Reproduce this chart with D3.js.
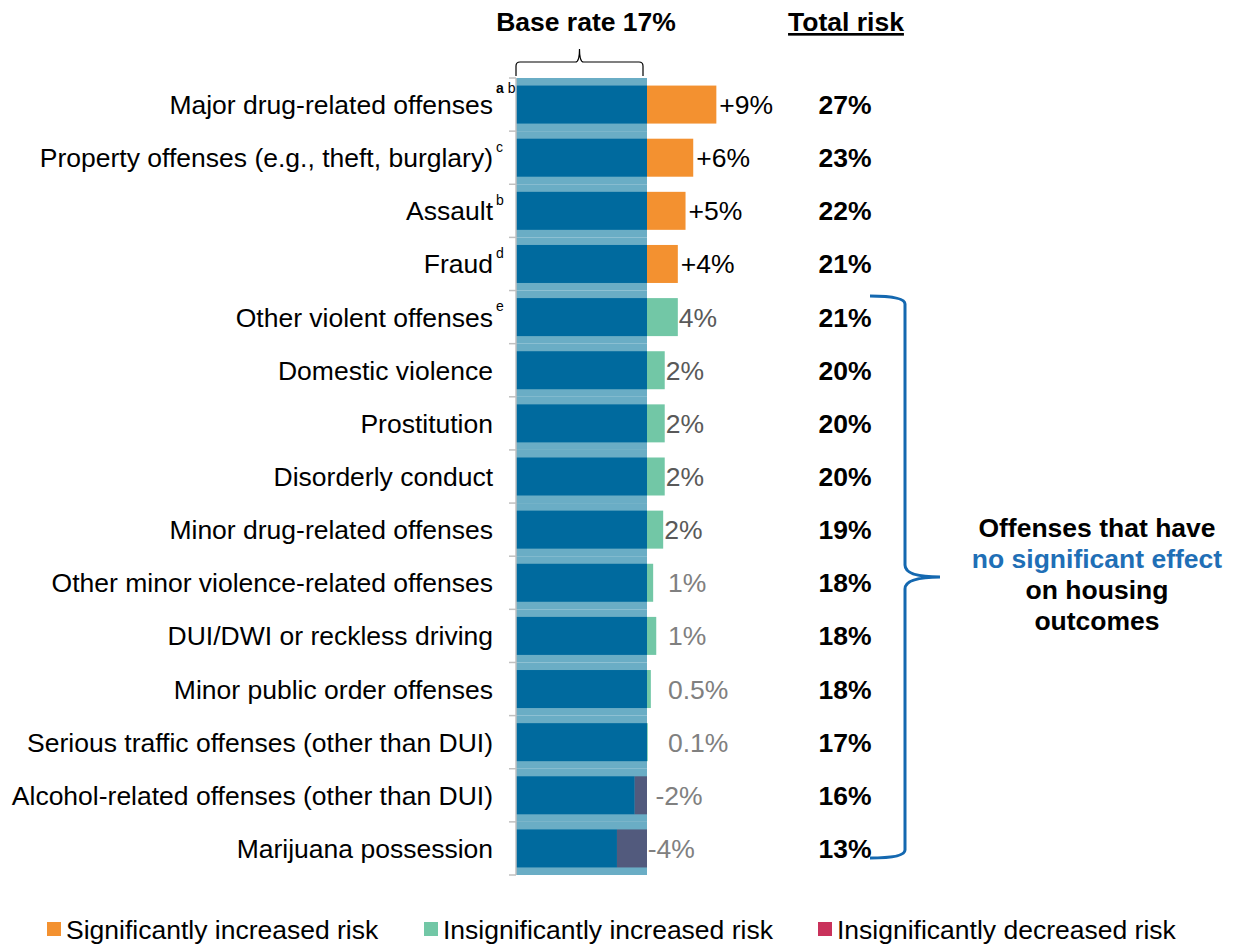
<!DOCTYPE html>
<html>
<head>
<meta charset="utf-8">
<script src="https://cdn.jsdelivr.net/npm/d3@7"></script>
<style>
  body { margin: 0; background: #fff; }
  text { font-family: "Liberation Sans", Arial, sans-serif; }
</style>
</head>
<body>
<div id="chart"></div>
<script>
// Chart data
const categories = [
  "Major drug-related offenses",
  "Property offenses (e.g., theft, burglary)",
  "Assault",
  "Fraud",
  "Other violent offenses",
  "Domestic violence",
  "Prostitution",
  "Disorderly conduct",
  "Minor drug-related offenses",
  "Other minor violence-related offenses",
  "DUI/DWI or reckless driving",
  "Minor public order offenses",
  "Serious traffic offenses (other than DUI)",
  "Alcohol-related offenses (other than DUI)",
  "Marijuana possession"
];
const footnotes = ["a b", "c", "b", "d", "e", "", "", "", "", "", "", "", "", "", ""];
const baseRate = 17;
const effects = [9, 6, 5, 4, 4, 2.3, 2.3, 2.3, 2.1, 0.8, 1.2, 0.5, 0.1, -1.6, -3.9];
const effectLabels = ["+9%", "+6%", "+5%", "+4%", "4%", "2%", "2%", "2%", "2%", "1%", "1%", "0.5%", "0.1%", "-2%", "-4%"];
const significant = [true, true, true, true, false, false, false, false, false, false, false, false, false, false, false];
const totalRisk = ["27%", "23%", "22%", "21%", "21%", "20%", "20%", "20%", "19%", "18%", "18%", "18%", "17%", "16%", "13%"];
const legendItems = ["Significantly increased risk", "Insignificantly increased risk", "Insignificantly decreased risk"];
const legendColors = ["#f39130", "#72c7a6", "#c9325b"];

const width = 1242;
const height = 945;
const fs = 26.5;

const svg = d3.select("#chart").append("svg")
    .attr("width", width)
    .attr("height", height);

// Scales
const x = d3.scaleLinear().domain([0, baseRate]).range([516, 647]);
const y = d3.scaleBand().domain(categories).range([78, 875]).paddingInner(0).paddingOuter(0);
const barH = 38;
const mid = c => y(c) + y.bandwidth() / 2;

const rows = categories.map((c, i) => ({
  cat: c, note: footnotes[i], v: effects[i], label: effectLabels[i],
  sig: significant[i], total: totalRisk[i]
}));

// light blue band behind each row
svg.append("g").selectAll("rect")
  .data(rows).enter().append("rect")
    .attr("x", x(0))
    .attr("y", d => y(d.cat))
    .attr("width", x(baseRate) - x(0))
    .attr("height", y.bandwidth())
    .attr("fill", "#6aadc5");

// base part (dark blue)
svg.append("g").selectAll("rect")
  .data(rows).enter().append("rect")
    .attr("x", x(0))
    .attr("y", d => mid(d.cat) - barH / 2)
    .attr("width", d => x(Math.min(baseRate, baseRate + d.v)) - x(0))
    .attr("height", barH)
    .attr("fill", "#006a9e");

// effect part
svg.append("g").selectAll("rect")
  .data(rows).enter().append("rect")
    .attr("x", d => x(Math.min(baseRate, baseRate + d.v)))
    .attr("y", d => mid(d.cat) - barH / 2)
    .attr("width", d => Math.abs(x(baseRate + d.v) - x(baseRate)))
    .attr("height", barH)
    .attr("fill", d => d.v < 0 ? "#525a7d" : (d.sig ? "#f39130" : "#72c7a6"));

// axis line and ticks
const axis = svg.append("g").attr("stroke", "#c0c0c0").attr("stroke-width", 1.5);
axis.append("line")
    .attr("x1", x(0)).attr("x2", x(0))
    .attr("y1", y.range()[0]).attr("y2", y.range()[1]);
axis.selectAll("line.tick")
  .data(categories.map(c => y(c)).concat([y.range()[1]]))
  .enter().append("line")
    .attr("class", "tick")
    .attr("x1", x(0) - 7).attr("x2", x(0))
    .attr("y1", d => d).attr("y2", d => d);

// category labels
const catLabels = svg.append("g").selectAll("g")
  .data(rows).enter().append("g");
catLabels.append("text")
    .attr("x", 493)
    .attr("y", d => mid(d.cat) + 9.5)
    .attr("text-anchor", "end")
    .attr("font-size", fs)
    .attr("fill", "#000")
    .text(d => d.cat);
const notes = catLabels.append("text")
    .attr("x", 496)
    .attr("y", (d, i) => mid(d.cat) - (i === 0 ? 12 : 6))
    .attr("font-size", 14)
    .attr("fill", "#000");
notes.each(function(d) {
  const parts = d.note.split(" ");
  parts.forEach((p, i) => {
    d3.select(this).append("tspan")
      .attr("font-weight", d.note === "a b" && i === 0 ? "bold" : "normal")
      .text((i > 0 ? " " : "") + p);
  });
});

// value labels
svg.append("g").selectAll("text")
  .data(rows).enter().append("text")
    .attr("x", d => {
      if (d.sig) return x(baseRate + d.v) + 3;
      if (d.v >= 2) return x(baseRate + d.v) + 1;
      if (d.v >= 0) return x(baseRate) + 21;
      return x(baseRate) + 14 + 3.4 * d.v;
    })
    .attr("y", d => mid(d.cat) + 9.5)
    .attr("font-size", fs)
    .attr("fill", d => d.sig ? "#000" : (d.v >= 2 ? "#595959" : "#808080"))
    .text(d => d.label);

// total risk column
svg.append("g").selectAll("text")
  .data(rows).enter().append("text")
    .attr("x", 845)
    .attr("y", d => mid(d.cat) + 9.5)
    .attr("text-anchor", "middle")
    .attr("font-size", fs)
    .attr("font-weight", "bold")
    .attr("fill", "#000")
    .text(d => d.total);

svg.append("text")
    .attr("x", 846).attr("y", 31)
    .attr("text-anchor", "middle")
    .attr("font-size", fs)
    .attr("font-weight", "bold")
    .attr("text-decoration", "underline")
    .text("Total risk");

// base rate title and brace
svg.append("text")
    .attr("x", 586).attr("y", 31)
    .attr("text-anchor", "middle")
    .attr("font-size", fs)
    .attr("font-weight", "bold")
    .text("Base rate " + baseRate + "%");

const bx0 = x(0), bx1 = x(baseRate) - 4, bm = (bx0 + bx1) / 2;
svg.append("path")
    .attr("d", `M${bx0},76 L${bx0},66 Q${bx0},62 ${bx0 + 4},62 L${bm - 4},62 Q${bm},62 ${bm},49 Q${bm},62 ${bm + 4},62 L${bx1 - 4},62 Q${bx1},62 ${bx1},66 L${bx1},76`)
    .attr("fill", "none")
    .attr("stroke", "#000")
    .attr("stroke-width", 1.2);

// right brace for non-significant rows
const rTop = 296, rBot = 858, rMid = 577, rx = 905;
svg.append("path")
    .attr("d", `M870,${rTop} Q${rx},${rTop} ${rx},${rTop + 8} L${rx},${rMid - 12} Q${rx},${rMid} 940,${rMid} Q${rx},${rMid} ${rx},${rMid + 12} L${rx},${rBot - 8} Q${rx},${rBot} 870,${rBot}`)
    .attr("fill", "none")
    .attr("stroke", "#1468b0")
    .attr("stroke-width", 3);

const note = svg.append("text")
    .attr("text-anchor", "middle")
    .attr("font-size", fs)
    .attr("font-weight", "bold");
[["Offenses that have", "#000"], ["no significant effect", "#1f6fb6"], ["on housing", "#000"], ["outcomes", "#000"]]
  .forEach((l, i) => {
    note.append("tspan")
      .attr("x", 1097).attr("y", 537 + i * 31)
      .attr("fill", l[1])
      .text(l[0]);
  });

// legend
const legendX = [47, 424, 818];
const legend = svg.append("g").selectAll("g")
  .data(legendItems).enter().append("g")
    .attr("transform", (d, i) => `translate(${legendX[i]},922)`);
legend.append("rect")
    .attr("width", 14).attr("height", 14)
    .attr("fill", (d, i) => legendColors[i]);
legend.append("text")
    .attr("x", 19).attr("y", 17)
    .attr("font-size", fs)
    .text(d => d);
</script>
</body>
</html>
